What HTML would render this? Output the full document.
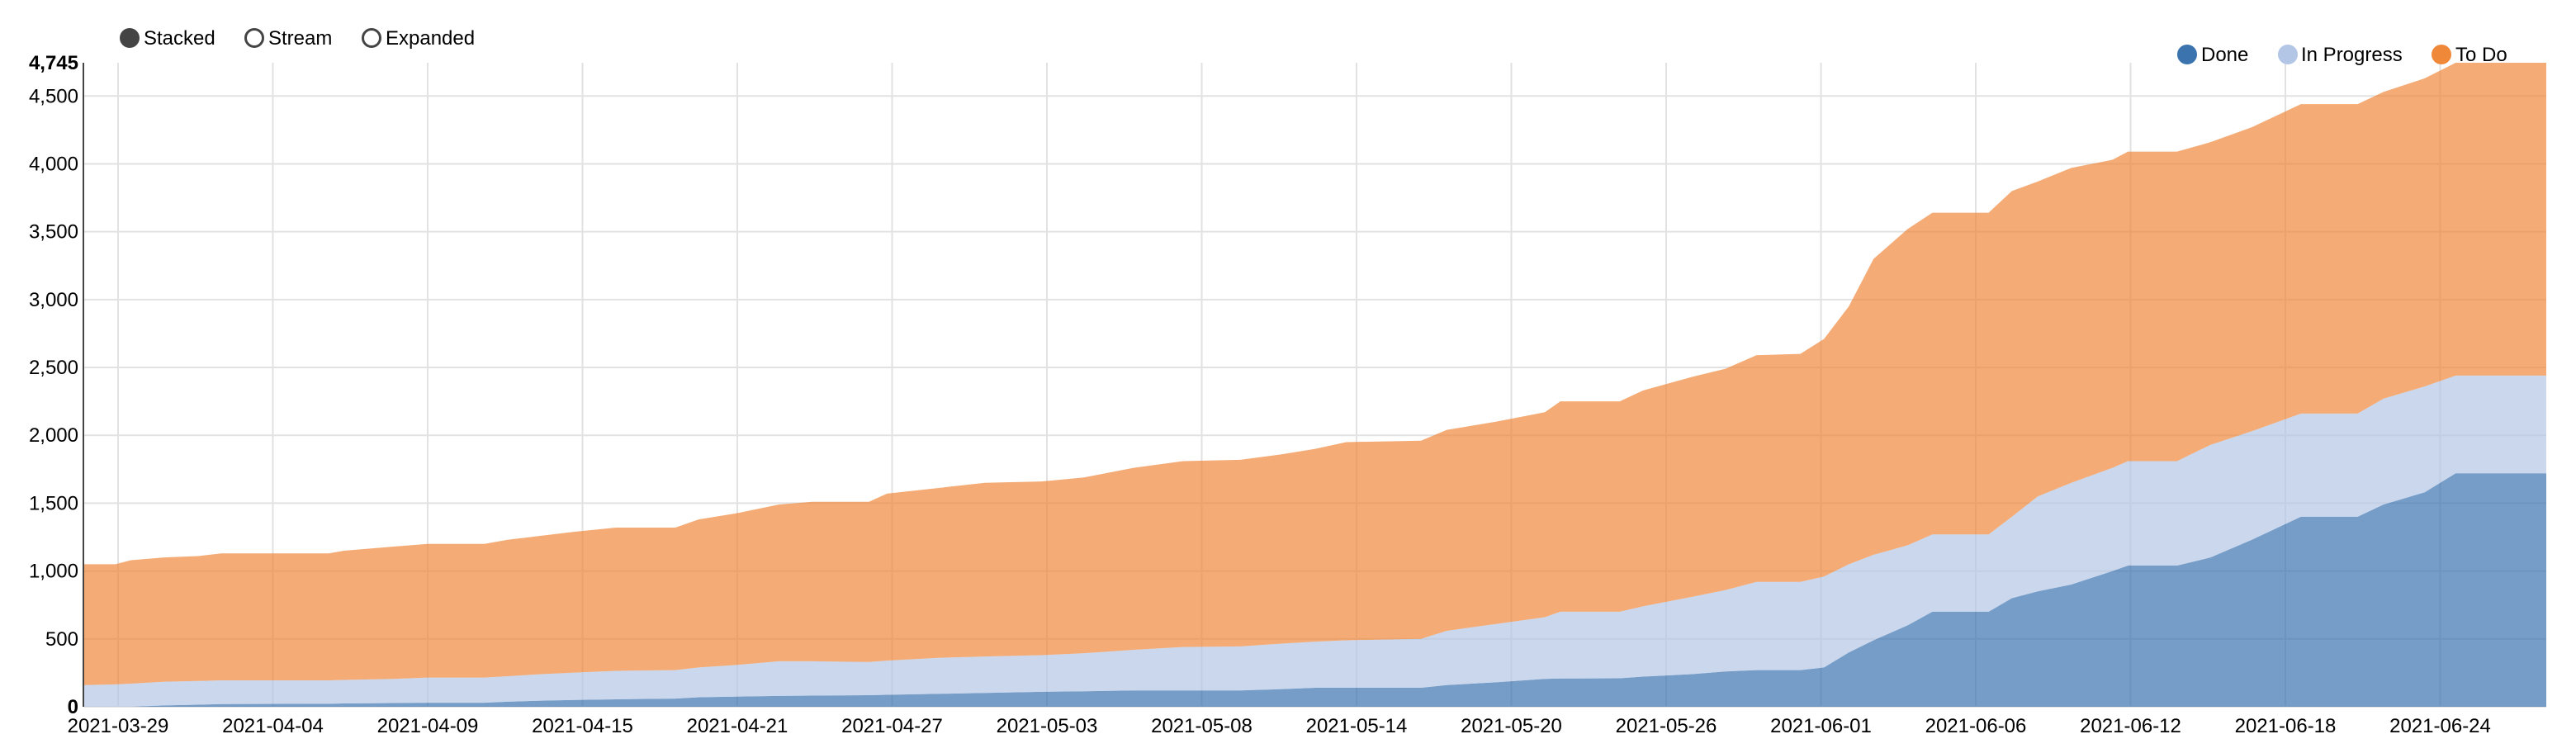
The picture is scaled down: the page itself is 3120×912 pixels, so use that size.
<!DOCTYPE html>
<html><head><meta charset="utf-8"><style>
html,body{margin:0;padding:0;background:#fff;width:3120px;height:912px;overflow:hidden}
svg text{font-family:"Liberation Sans",Arial,sans-serif}
</style></head><body>
<svg id="chart" width="3120" height="912" xmlns="http://www.w3.org/2000/svg">
<g id="grid"></g>
<g id="areas"></g>
<g id="axes"></g>
<g>
 <g><circle cx="157" cy="46" r="12" fill="#444"/><text x="174" y="54" font-size="24" fill="#000">Stacked</text></g>
 <g><circle cx="308" cy="46" r="10.5" fill="#fff" stroke="#444" stroke-width="3"/><text x="325" y="54" font-size="24" fill="#000">Stream</text></g>
 <g><circle cx="450" cy="46" r="10.5" fill="#fff" stroke="#444" stroke-width="3"/><text x="467" y="54" font-size="24" fill="#000">Expanded</text></g>
</g>
<g>
 <g><circle cx="2649" cy="66" r="12" fill="#3b73af"/><text x="2666" y="74" font-size="24" fill="#000">Done</text></g>
 <g><circle cx="2771" cy="66" r="12" fill="#b3c6e6"/><text x="2787" y="74" font-size="24" fill="#000">In Progress</text></g>
 <g><circle cx="2957" cy="66" r="12" fill="#f0883a"/><text x="2974" y="74" font-size="24" fill="#000">To Do</text></g>
</g>
</svg>
<script>
// day offsets from 2021-03-29
const days=[-1.27,-0.1,0.5,1.8,3.1,4.0,7.8,8.3,9.9,11.0,13.2,14.1,15.4,16.7,18.3,20.6,21.5,23.1,24.6,25.9,28.1,28.8,30.7,32.6,34.8,36.2,37.8,39.4,41.5,43.1,44.4,45.6,48.5,49.5,51.4,53.3,53.9,56.2,57.1,59.0,60.3,61.5,63.2,64.1,64.9,65.7,66.8,67.6,69.5,70.4,71.4,72.7,74.3,74.9,76.8,78.1,79.7,81.6,83.8,84.8,86.4,87.6,91.1];
const done=[0,0,0,10,15,20,22,24,27,30,30,37,45,50,55,60,70,75,80,82,85,88,95,102,110,114,120,120,120,130,140,140,140,160,180,205,208,210,222,240,260,270,270,290,400,490,600,700,700,800,850,900,1000,1040,1040,1100,1230,1400,1400,1490,1580,1720,1720];
const inProgress=[160,165,170,175,175,175,173,174,178,185,185,188,195,202,210,210,220,235,255,253,245,252,265,268,270,281,300,320,325,335,340,350,360,400,430,455,492,490,518,570,600,650,650,670,650,630,590,570,570,600,700,750,760,770,770,830,800,760,760,780,780,720,720];
const toDo=[890,885,910,915,920,935,935,952,975,985,985,1005,1020,1038,1055,1050,1090,1120,1155,1175,1180,1230,1250,1280,1280,1295,1340,1370,1375,1395,1420,1460,1460,1480,1490,1510,1550,1550,1590,1620,1630,1670,1680,1750,1900,2180,2330,2370,2370,2400,2320,2320,2270,2280,2280,2230,2240,2280,2280,2260,2270,2305,2305];
const tickLabels=["2021-03-29","2021-04-04","2021-04-09","2021-04-15","2021-04-21","2021-04-27","2021-05-03","2021-05-08","2021-05-14","2021-05-20","2021-05-26","2021-06-01","2021-06-06","2021-06-12","2021-06-18","2021-06-24"];
const tickDays=[0,6,11,17,23,29,35,40,46,52,58,64,69,75,81,87];
const yTicks=[0,500,1000,1500,2000,2500,3000,3500,4000,4500];
const yMax=4745;

const L=101,R=3084,T=76,B=856,T0=143,TS=187.5;
const NS="http://www.w3.org/2000/svg";
function x(d){
  let k=0;
  if(d<tickDays[0]){k=0;}else{while(k<tickDays.length-2&&d>tickDays[k+1])k++;}
  const span=tickDays[k+1]-tickDays[k];
  const px=T0+TS*k+(d-tickDays[k])/span*TS;
  return Math.max(L,Math.min(R,px));
}
function y(v){return B-(v/yMax)*(B-T);}
function mk(tag,attrs,parent){const e=document.createElementNS(NS,tag);for(const k in attrs)e.setAttribute(k,attrs[k]);parent.appendChild(e);return e;}

const grid=document.getElementById('grid');
yTicks.forEach(function(v){
  const ln=mk('line',{x1:L,x2:R,y1:y(v),y2:y(v),stroke:'#e2e2e2','stroke-width':2},grid);
  
  
});
tickDays.forEach(function(d){
  const ln=mk('line',{x1:x(d),x2:x(d),y1:T,y2:B,stroke:'#e2e2e2','stroke-width':2},grid);
  
  
});

const areas=document.getElementById('areas');
const series=[{n:'done',v:done,c:'#3b73af'},{n:'in-progress',v:inProgress,c:'#b3c6e6'},{n:'to-do',v:toDo,c:'#f0883a'}];
let base=days.map(function(){return 0;});
series.forEach(function(s){
  const top=base.map(function(b,i){return b+s.v[i];});
  let d='M'+L+','+y(top[0]);
  days.forEach(function(dd,i){d+=' L'+x(dd)+','+y(top[i]);});
  d+=' L'+R+','+y(top[top.length-1])+' L'+R+','+y(base[base.length-1]);
  for(let i=days.length-1;i>=0;i--){d+=' L'+x(days[i])+','+y(base[i]);}
  d+=' L'+L+','+y(base[0])+' Z';
  const p=mk('path',{d:d,fill:s.c,'fill-opacity':0.7},areas);
  
  
  base=top;
});

const axes=document.getElementById('axes');
const ya=mk('line',{x1:L,x2:L,y1:T,y2:B,stroke:'#444','stroke-width':2},axes);


yTicks.forEach(function(v){
  const t=mk('text',{x:95,y:y(v)+8,'text-anchor':'end','font-size':24,fill:'#000'},axes);
  t.textContent=v.toLocaleString('en-US');
  if(v===0)t.setAttribute('font-weight','bold');
  
  
});
const mt=mk('text',{x:95,y:y(yMax)+8,'text-anchor':'end','font-size':24,'font-weight':'bold',fill:'#000'},axes);
mt.textContent=yMax.toLocaleString('en-US');


tickDays.forEach(function(d,i){
  const t=mk('text',{x:x(d),y:887,'text-anchor':'middle','font-size':24,fill:'#000'},axes);
  t.textContent=tickLabels[i];
  
  
});
</script>
</body></html>
